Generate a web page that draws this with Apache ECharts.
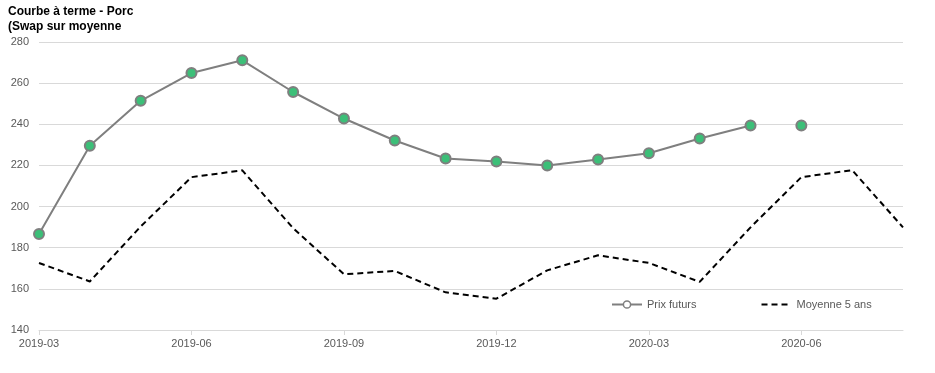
<!DOCTYPE html>
<html>
<head>
<meta charset="utf-8">
<script src="https://cdn.jsdelivr.net/npm/echarts@6/dist/echarts.min.js"></script>
<style>
html,body{margin:0;padding:0;background:#fff;}
#chart{width:935px;height:373px;}
</style>
</head>
<body>
<div id="chart"></div>
<script>
const categories = ['2019-03','2019-04','2019-05','2019-06','2019-07','2019-08','2019-09','2019-10','2019-11','2019-12','2020-01','2020-02','2020-03','2020-04','2020-05','2020-06','2020-07','2020-08'];
const prixFuturs = [186.7, 229.6, 251.4, 264.9, 271.1, 255.7, 242.8, 232.1, 223.4, 221.9, 220.0, 222.9, 225.9, 233.1, 239.4, null, null, null];
const prixFutursIsole = [null, null, null, null, null, null, null, null, null, null, null, null, null, null, null, 239.4, null, null];
const moyenne5ans = [172.6, 163.6, 190.3, 214.3, 217.6, 189.5, 167.1, 168.7, 158.3, 155.2, 169.0, 176.3, 172.6, 163.4, 189.9, 214.3, 217.7, 189.9];
const titleText = 'Courbe à terme - Porc\n(Swap sur moyenne';

const chart = echarts.init(document.getElementById('chart'));
const markerStyle = {color: '#3cbf78', borderColor: '#7f7f7f', borderWidth: 2};
chart.setOption({
  animation: false,
  title: {
    text: titleText, left: 8, top: 4, padding: 0,
    textStyle: {fontFamily: 'Liberation Sans, Arial', fontSize: 12, fontWeight: 'bold', color: '#000', lineHeight: 15}
  },
  legend: {
    top: 299, left: 611, padding: 0, itemGap: 64, itemWidth: 30, itemHeight: 9,
    textStyle: {fontFamily: 'Liberation Sans, Arial', fontSize: 11, color: '#595959'},
    data: [
      {name: 'Prix futurs', itemStyle: {color: '#fff', borderColor: '#7f7f7f', borderWidth: 1.5}},
      {name: 'Moyenne 5 ans', itemStyle: {opacity: 0}}
    ]
  },
  grid: {left: 39, right: 32, top: 42, bottom: 43},
  xAxis: {
    type: 'category', data: categories, boundaryGap: false,
    axisLine: {lineStyle: {color: '#d9d9d9'}},
    axisTick: {interval: 2, length: 5, lineStyle: {color: '#d9d9d9'}},
    axisLabel: {interval: 2, color: '#595959', fontFamily: 'Liberation Sans, Arial', fontSize: 11, margin: 8}
  },
  yAxis: {
    type: 'value', min: 140, max: 280, interval: 20,
    axisLine: {show: false}, axisTick: {show: false},
    axisLabel: {color: '#595959', fontFamily: 'Liberation Sans, Arial', fontSize: 11, margin: 10},
    splitLine: {lineStyle: {color: '#d9d9d9'}}
  },
  series: [
    {
      name: 'Prix futurs', type: 'line', data: prixFuturs, connectNulls: false,
      symbol: 'circle', symbolSize: 10,
      lineStyle: {color: '#7f7f7f', width: 2}, itemStyle: markerStyle, z: 3
    },
    {
      name: 'Prix futurs', type: 'line', data: prixFutursIsole,
      symbol: 'circle', symbolSize: 10, showSymbol: true,
      lineStyle: {color: '#7f7f7f', width: 2}, itemStyle: markerStyle, z: 3
    },
    {
      name: 'Moyenne 5 ans', type: 'line', data: moyenne5ans, symbol: 'none',
      lineStyle: {color: '#000', width: 2, type: [6, 4]}, itemStyle: {color: '#000'}
    }
  ]
});
</script>
</body>
</html>
